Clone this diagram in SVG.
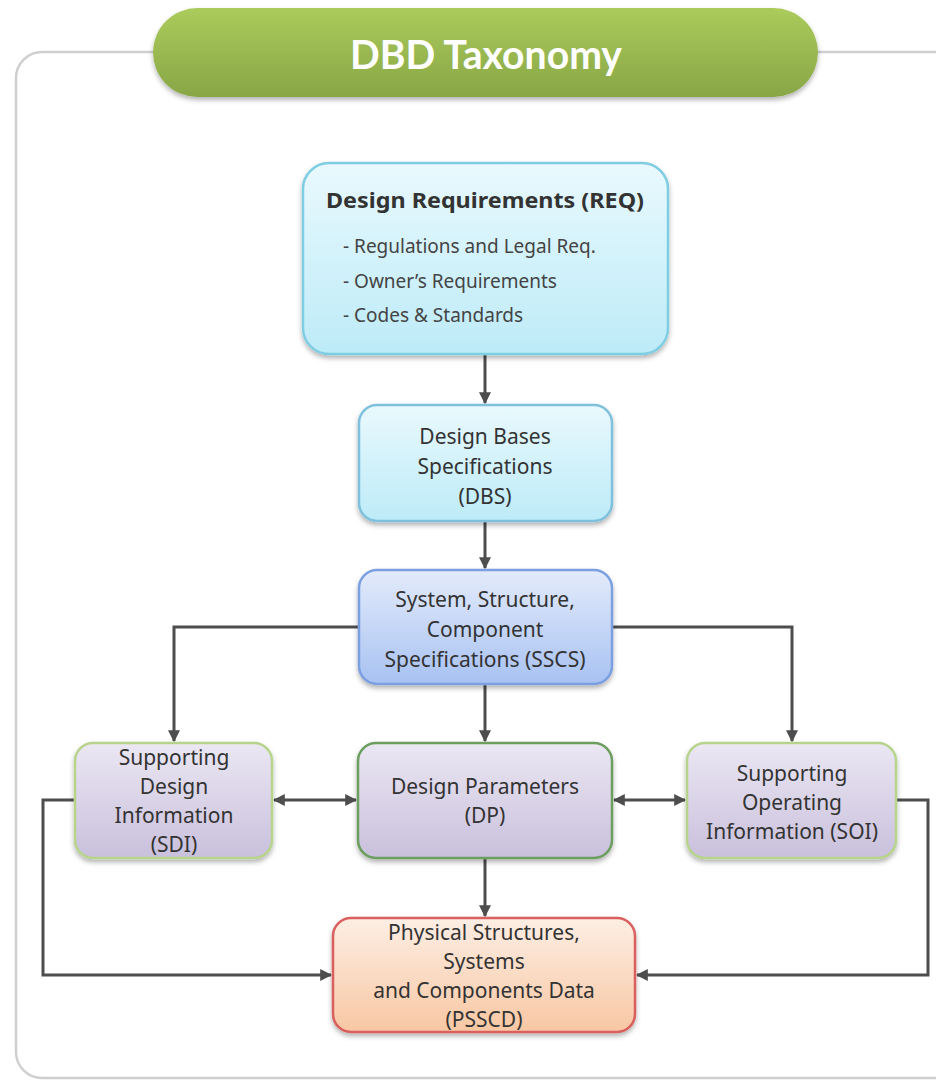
<svg xmlns="http://www.w3.org/2000/svg" width="936" height="1081" viewBox="0 0 936 1081">
  <defs>
    <linearGradient id="gTitle" x1="0" y1="0" x2="0" y2="1">
      <stop offset="0" stop-color="#abcb5c"/>
      <stop offset="1" stop-color="#88a645"/>
    </linearGradient>
    <linearGradient id="gCyan" x1="0" y1="0" x2="0" y2="1">
      <stop offset="0" stop-color="#e9f9fd"/>
      <stop offset="1" stop-color="#bdebf8"/>
    </linearGradient>
    <linearGradient id="gBlue" x1="0" y1="0" x2="0" y2="1">
      <stop offset="0" stop-color="#e3ebfb"/>
      <stop offset="1" stop-color="#a8c2f2"/>
    </linearGradient>
    <linearGradient id="gLav" x1="0" y1="0" x2="0" y2="1">
      <stop offset="0" stop-color="#ebe7f3"/>
      <stop offset="1" stop-color="#c9c0dc"/>
    </linearGradient>
    <linearGradient id="gPeach" x1="0" y1="0" x2="0" y2="1">
      <stop offset="0" stop-color="#fdeee4"/>
      <stop offset="1" stop-color="#f8c7a3"/>
    </linearGradient>
    <filter id="shadow" x="-10%" y="-10%" width="120%" height="130%">
      <feDropShadow dx="0" dy="3" stdDeviation="2.5" flood-color="#000" flood-opacity="0.3"/>
    </filter>
    <marker id="arrow" viewBox="0 0 10 10" refX="9" refY="5" markerWidth="4" markerHeight="4" orient="auto-start-reverse" markerUnits="strokeWidth">
      <path d="M0,0 L10,5 L0,10 z" fill="#4d4d4d"/>
    </marker>
  </defs>
  <style>
    .frame { fill: #ffffff; stroke: #cfcfcf; stroke-width: 2.5; }
    .box { stroke-width: 2.5; filter: url(#shadow); }
    .t { font-family: "Noto Sans", "Open Sans", sans-serif; fill: #333333; text-anchor: middle; font-size: 21px; }
    .item { font-family: "Noto Sans", "Open Sans", sans-serif; fill: #444444; font-size: 19px; }
    .wire { fill: none; stroke: #4d4d4d; stroke-width: 3; }
  </style>

  <rect width="936" height="1081" fill="#ffffff"/>

  <!-- outer frame -->
  <rect class="frame" x="16" y="52" width="960" height="1026" rx="26"/>

  <!-- title banner -->
  <g id="title">
    <rect x="153" y="8" width="665" height="89" rx="44.5" fill="url(#gTitle)" filter="url(#shadow)"/>
    <text x="486" y="69" font-family="Lato, 'Noto Sans', sans-serif" font-weight="bold" font-size="40" fill="#ffffff" text-anchor="middle" textLength="272" lengthAdjust="spacingAndGlyphs">DBD Taxonomy</text>
  </g>

  <!-- connectors -->
  <g id="connectors">
    <line class="wire" x1="485" y1="354" x2="485" y2="403" marker-end="url(#arrow)"/>
    <line class="wire" x1="485" y1="521" x2="485" y2="568" marker-end="url(#arrow)"/>
    <polyline class="wire" points="359,627 174,627 174,741" marker-end="url(#arrow)"/>
    <polyline class="wire" points="612,627 792,627 792,741" marker-end="url(#arrow)"/>
    <line class="wire" x1="485" y1="684" x2="485" y2="741" marker-end="url(#arrow)"/>
    <line class="wire" x1="274" y1="800" x2="356" y2="800" marker-start="url(#arrow)" marker-end="url(#arrow)"/>
    <line class="wire" x1="614" y1="800" x2="685" y2="800" marker-start="url(#arrow)" marker-end="url(#arrow)"/>
    <line class="wire" x1="485" y1="858" x2="485" y2="916" marker-end="url(#arrow)"/>
    <polyline class="wire" points="75,800 43,800 43,975 331,975" marker-end="url(#arrow)"/>
    <polyline class="wire" points="896,800 928,800 928,975 637,975" marker-end="url(#arrow)"/>
  </g>

  <!-- Design Requirements -->
  <g id="req">
    <rect class="box" x="303" y="163" width="365" height="191" rx="26" fill="url(#gCyan)" stroke="#7fcde2"/>
    <text class="t" x="485" y="208" font-weight="bold" font-size="24" fill="#222" textLength="318" lengthAdjust="spacingAndGlyphs">Design Requirements (REQ)</text>
    <text class="item" x="343" y="253">- Regulations and Legal Req.</text>
    <text class="item" x="343" y="288">- Owner’s Requirements</text>
    <text class="item" x="343" y="322">- Codes &amp; Standards</text>
  </g>

  <!-- Design Bases Specifications -->
  <g id="dbs">
    <rect class="box" x="359" y="405" width="253" height="116" rx="18" fill="url(#gCyan)" stroke="#7fc0dd"/>
    <text class="t" x="485" y="444">Design Bases</text>
    <text class="t" x="485" y="474">Specifications</text>
    <text class="t" x="485" y="504">(DBS)</text>
  </g>

  <!-- System, Structure, Component Specifications -->
  <g id="sscs">
    <rect class="box" x="359" y="570" width="253" height="114" rx="18" fill="url(#gBlue)" stroke="#7c9fe0"/>
    <text class="t" x="485" y="607">System, Structure,</text>
    <text class="t" x="485" y="637">Component</text>
    <text class="t" x="485" y="667">Specifications (SSCS)</text>
  </g>

  <!-- Supporting Design Information -->
  <g id="sdi">
    <rect class="box" x="75" y="743" width="197" height="115" rx="18" fill="url(#gLav)" stroke="#b7d38c"/>
    <text class="t" x="174" y="765">Supporting</text>
    <text class="t" x="174" y="794">Design</text>
    <text class="t" x="174" y="823">Information</text>
    <text class="t" x="174" y="852">(SDI)</text>
  </g>

  <!-- Design Parameters -->
  <g id="dp">
    <rect class="box" x="358" y="743" width="254" height="115" rx="18" fill="url(#gLav)" stroke="#6c9e60"/>
    <text class="t" x="485" y="794">Design Parameters</text>
    <text class="t" x="485" y="823">(DP)</text>
  </g>

  <!-- Supporting Operating Information -->
  <g id="soi">
    <rect class="box" x="687" y="743" width="209" height="115" rx="18" fill="url(#gLav)" stroke="#b7d38c"/>
    <text class="t" x="792" y="781">Supporting</text>
    <text class="t" x="792" y="810">Operating</text>
    <text class="t" x="792" y="839">Information (SOI)</text>
  </g>

  <!-- Physical Structures, Systems and Components Data -->
  <g id="psscd">
    <rect class="box" x="333" y="918" width="302" height="114" rx="18" fill="url(#gPeach)" stroke="#d9605e"/>
    <text class="t" x="484" y="940">Physical Structures,</text>
    <text class="t" x="484" y="969">Systems</text>
    <text class="t" x="484" y="998">and Components Data</text>
    <text class="t" x="484" y="1027">(PSSCD)</text>
  </g>
</svg>
